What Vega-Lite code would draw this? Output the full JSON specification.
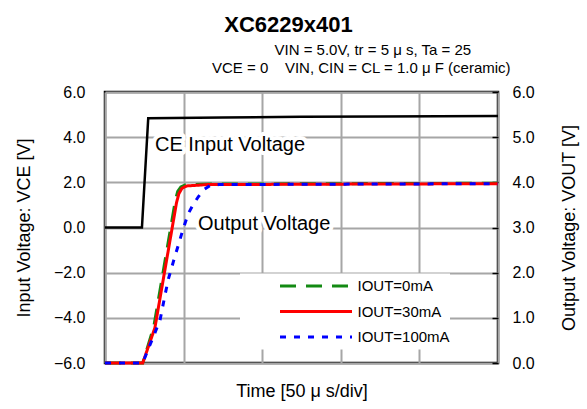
{
  "$schema": "https://vega.github.io/schema/vega-lite/v6.json",
  "width": 393,
  "height": 271,
  "autosize": {"type": "none"},
  "padding": {"left": 105, "top": 92, "right": 89, "bottom": 46},
  "config": {
    "font": "Liberation Sans",
    "view": {"stroke": "black", "strokeWidth": 2.5},
    "axis": {
      "domain": false,
      "ticks": false,
      "gridColor": "#a6a6a6",
      "gridWidth": 2,
      "gridOpacity": 1,
      "labelFontSize": 16,
      "labelColor": "black",
      "titleFontSize": 18,
      "titleFontWeight": "normal",
      "titleColor": "black"
    }
  },
  "title": {
    "text": "\u200b\u00a0\u00a0XC6229x401",
    "subtitle": ["\u200b\u00a0\u00a0\u00a0\u00a0\u00a0\u00a0\u00a0\u00a0\u00a0\u00a0\u00a0\u00a0\u00a0\u00a0\u00a0VIN = 5.0V, tr = 5 μ s, Ta = 25", "VCE = 0\u00a0\u00a0\u00a0 VIN, CIN = CL = 1.0 μ F (ceramic)"],
    "frame": "group",
    "anchor": "start",
    "align": "left",
    "dx": 107,
    "fontSize": 22,
    "fontWeight": "bold",
    "color": "black",
    "subtitleFontSize": 15,
    "subtitleColor": "black",
    "subtitleLineHeight": 18,
    "subtitlePadding": 6,
    "offset": 7
  },
  "datasets": {
    "ce": [
      {"t": 0, "v": 0.0},
      {"t": 47, "v": 0.0},
      {"t": 55, "v": 4.84},
      {"t": 150, "v": 4.87},
      {"t": 250, "v": 4.9},
      {"t": 350, "v": 4.92},
      {"t": 500, "v": 4.94}
    ],
    "labels": [
      {"t": 63.6, "v": 3.39, "label": "CE Input Voltage"},
      {"t": 118.3, "v": -0.11, "label": "Output Voltage"}
    ],
    "out": [
      {"s": "IOUT=0mA", "t": 0, "v": 0.0},
      {"s": "IOUT=0mA", "t": 48, "v": 0.0},
      {"s": "IOUT=0mA", "t": 62, "v": 0.8},
      {"s": "IOUT=0mA", "t": 89.5, "v": 3.6},
      {"s": "IOUT=0mA", "t": 92.5, "v": 3.8},
      {"s": "IOUT=0mA", "t": 96.5, "v": 3.9},
      {"s": "IOUT=0mA", "t": 102, "v": 3.94},
      {"s": "IOUT=0mA", "t": 125, "v": 3.96},
      {"s": "IOUT=0mA", "t": 300, "v": 3.97},
      {"s": "IOUT=0mA", "t": 500, "v": 3.98},
      {"s": "IOUT=30mA", "t": 0, "v": 0.0},
      {"s": "IOUT=30mA", "t": 48, "v": 0.0},
      {"s": "IOUT=30mA", "t": 63.5, "v": 0.78},
      {"s": "IOUT=30mA", "t": 91, "v": 3.55},
      {"s": "IOUT=30mA", "t": 94, "v": 3.75},
      {"s": "IOUT=30mA", "t": 98, "v": 3.87},
      {"s": "IOUT=30mA", "t": 104, "v": 3.92},
      {"s": "IOUT=30mA", "t": 130, "v": 3.95},
      {"s": "IOUT=30mA", "t": 300, "v": 3.96},
      {"s": "IOUT=30mA", "t": 500, "v": 3.97},
      {"s": "IOUT=100mA", "t": 0, "v": 0.0},
      {"s": "IOUT=100mA", "t": 48, "v": 0.0},
      {"s": "IOUT=100mA", "t": 53, "v": 0.22},
      {"s": "IOUT=100mA", "t": 61.5, "v": 0.58},
      {"s": "IOUT=100mA", "t": 70, "v": 0.95},
      {"s": "IOUT=100mA", "t": 76.3, "v": 1.5},
      {"s": "IOUT=100mA", "t": 80.5, "v": 1.85},
      {"s": "IOUT=100mA", "t": 86.9, "v": 2.24},
      {"s": "IOUT=100mA", "t": 93.3, "v": 2.61},
      {"s": "IOUT=100mA", "t": 98.9, "v": 2.94},
      {"s": "IOUT=100mA", "t": 106, "v": 3.31},
      {"s": "IOUT=100mA", "t": 112, "v": 3.5},
      {"s": "IOUT=100mA", "t": 118.7, "v": 3.68},
      {"s": "IOUT=100mA", "t": 126, "v": 3.84},
      {"s": "IOUT=100mA", "t": 133.6, "v": 3.93},
      {"s": "IOUT=100mA", "t": 145, "v": 3.95},
      {"s": "IOUT=100mA", "t": 300, "v": 3.96},
      {"s": "IOUT=100mA", "t": 500, "v": 3.97}
    ]
  },
  "layer": [
    {
      "data": {"name": "ce"},
      "mark": {"type": "line", "color": "black", "strokeWidth": 2.5},
      "encoding": {
        "x": {
          "field": "t", "type": "quantitative",
          "scale": {"domain": [0, 500]},
          "axis": {"values": [0, 50, 100, 150, 200, 250, 300, 350, 400, 450, 500], "labels": false, "title": "Time [50 μ s/div]", "titlePadding": 19}
        },
        "y": {
          "field": "v", "type": "quantitative",
          "scale": {"domain": [-6, 6]},
          "axis": {"values": [-6, -4, -2, 0, 2, 4, 6], "format": ".1f", "labelPadding": 20, "title": "Input Voltage: VCE [V]", "titlePadding": 20}
        }
      }
    },
    {
      "data": {"name": "labels"},
      "mark": {"type": "text", "align": "left", "baseline": "alphabetic", "fontSize": 20, "stroke": "white", "strokeWidth": 8, "strokeJoin": "round", "color": "white"},
      "encoding": {
        "x": {"field": "t", "type": "quantitative"},
        "y": {"field": "v", "type": "quantitative", "scale": {"domain": [-6, 6]}, "axis": null},
        "text": {"field": "label"}
      }
    },
    {
      "data": {"name": "labels"},
      "mark": {"type": "text", "align": "left", "baseline": "alphabetic", "fontSize": 20, "color": "black"},
      "encoding": {
        "x": {"field": "t", "type": "quantitative"},
        "y": {"field": "v", "type": "quantitative", "scale": {"domain": [-6, 6]}, "axis": null},
        "text": {"field": "label"}
      }
    },
    {
      "data": {"name": "out"},
      "mark": {"type": "line", "strokeWidth": 3},
      "encoding": {
        "x": {"field": "t", "type": "quantitative"},
        "y": {
          "field": "v", "type": "quantitative",
          "scale": {"domain": [0, 6]},
          "axis": {"orient": "right", "values": [0, 1, 2, 3, 4, 5, 6], "format": ".1f", "grid": false, "ticks": true, "tickSize": -6, "tickColor": "black", "tickWidth": 1.5, "labelPadding": 20, "title": "Output Voltage: VOUT [V]", "titleAngle": 270, "titlePadding": 44}
        },
        "color": {
          "field": "s", "type": "nominal",
          "scale": {"domain": ["IOUT=0mA", "IOUT=30mA", "IOUT=100mA"], "range": ["#138a13", "#ff0000", "#0000ff"]},
          "legend": {
            "title": null, "orient": "none", "legendX": 135, "legendY": 181.5,
            "fillColor": "white", "padding": 0, "symbolType": "stroke", "symbolSize": 5184,
            "symbolStrokeWidth": 3, "clipHeight": 25, "rowPadding": 0.5,
            "symbolOffset": 38.5, "labelOffset": 4, "labelFontSize": 15, "labelColor": "black",
            "labelExpr": "datum.label + '\u00a0\u00a0\u00a0\u00a0\u00a0\u00a0\u00a0\u00a0'"
          }
        },
        "strokeDash": {
          "field": "s", "type": "nominal",
          "scale": {"domain": ["IOUT=0mA", "IOUT=30mA", "IOUT=100mA"], "range": [[16, 10], [1, 0], [6, 8]]},
          "legend": {
            "title": null, "orient": "none", "legendX": 135, "legendY": 181.5,
            "fillColor": "white", "padding": 0, "symbolType": "stroke", "symbolSize": 5184,
            "symbolStrokeWidth": 3, "clipHeight": 25, "rowPadding": 0.5,
            "symbolOffset": 38.5, "labelOffset": 4, "labelFontSize": 15, "labelColor": "black",
            "labelExpr": "datum.label + '\u00a0\u00a0\u00a0\u00a0\u00a0\u00a0\u00a0\u00a0'"
          }
        }
      }
    }
  ],
  "resolve": {"scale": {"y": "independent"}}
}
